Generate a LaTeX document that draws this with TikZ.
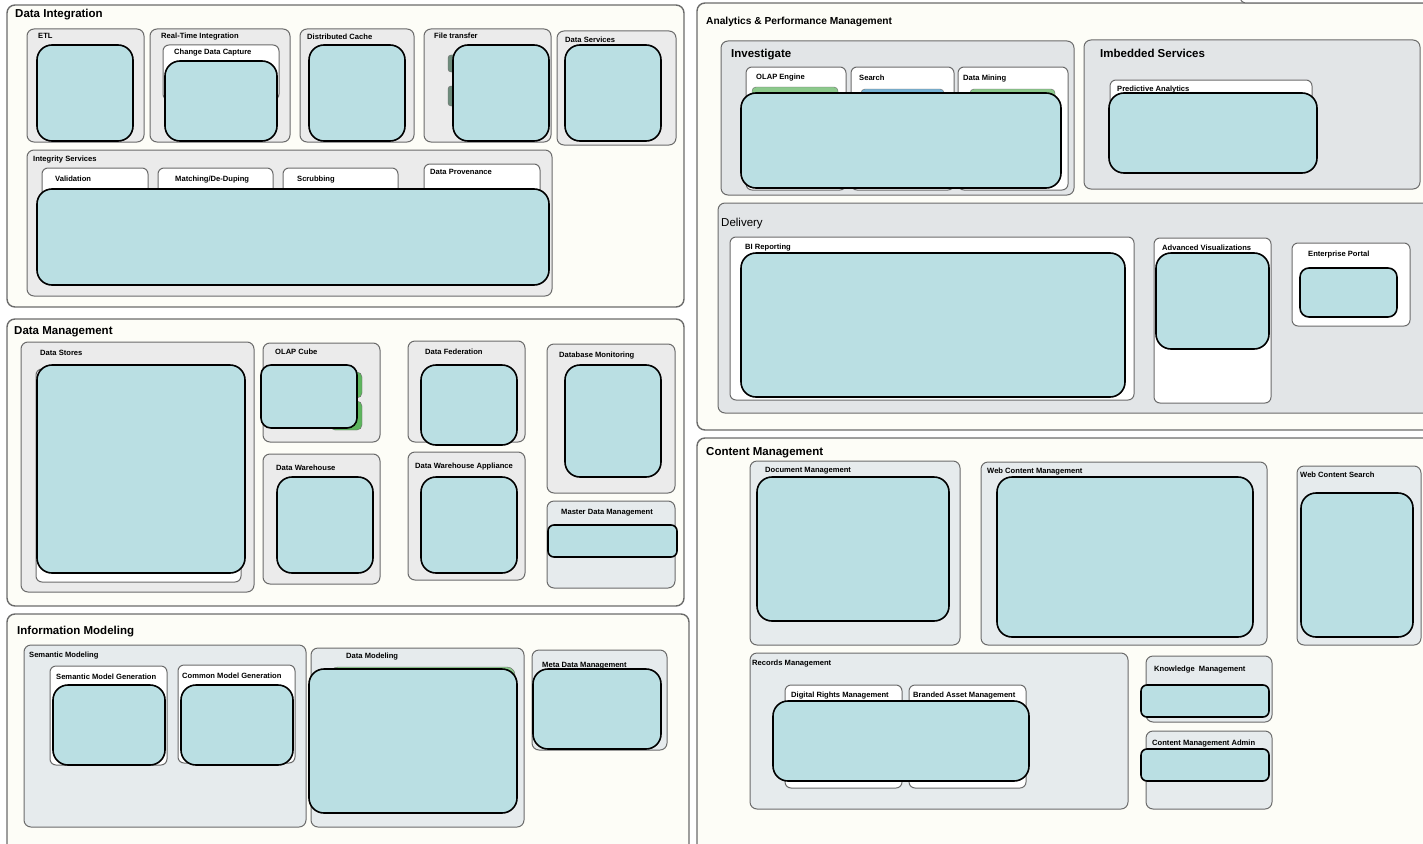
\documentclass[tikz,border=0pt]{standalone}
\usepackage{fontspec}
\setmainfont{Liberation Sans}
\definecolor{Cream}{HTML}{FDFDF7}
\definecolor{Frame}{HTML}{6B6B6B}
\definecolor{Shade}{HTML}{EBEBEB}
\definecolor{Haze}{HTML}{E6EBED}
\definecolor{Slate}{HTML}{E2E5E7}
\definecolor{Veil}{HTML}{BADFE3}
\definecolor{Leaf}{HTML}{8CC98C}
\definecolor{Cube}{HTML}{5DB55D}
\definecolor{Sky}{HTML}{79B4D6}
\definecolor{Moss}{HTML}{6E8C7C}
\tikzset{panel/.style={draw=Frame,fill=Cream,line width=1.4pt,rounded corners=8pt},
  grp/.style={draw=Frame,fill=Shade,line width=1pt,rounded corners=7pt},
  card/.style={draw=Frame,fill=white,line width=1pt,rounded corners=6pt},
  redact/.style={draw=black,fill=Veil,line width=1.6pt,rounded corners=#1},
  redact/.default=15pt,
  ptitle/.style={anchor=base west,inner sep=0pt,font=\fontsize{11.5}{12}\selectfont\bfseries},
  blabel/.style={anchor=base west,inner sep=0pt,font=\fontsize{7.6}{8}\selectfont\bfseries}}

\begin{document}
\begin{tikzpicture}[x=1pt,y=-1pt]
\useasboundingbox (0,0) rectangle (1423,843);
\clip (0,0) rectangle (1423,843);
% panels
\draw[panel] (7,5) rectangle (684,307);
\draw[panel] (7,319) rectangle (684,606);
\draw[panel] (7,614) rectangle (689,860);
\draw[panel] (697,3) rectangle (1445,430);
\draw[panel] (697,438) rectangle (1445,870);
\draw[card,draw=Frame] (1240,-20) rectangle (1445,3);

% data integration
\node[ptitle] (di) at (15,18) {Data Integration};
\draw[grp] (27,29) rectangle (144,142);
\draw[grp] (150,29) rectangle (290,142);
\draw[card] (163,45) rectangle (279,100);
\draw[grp] (300,29) rectangle (414,142);
\draw[grp] (424,29) rectangle (551,142);
\draw[fill=Moss,draw=Frame,rounded corners=3pt] (448,55) rectangle (470,72);
\draw[fill=Moss,draw=Frame,rounded corners=3pt] (448,86) rectangle (470,106);
\draw[grp] (557,31) rectangle (676,145);
\draw[grp] (27,150) rectangle (552,296);
\draw[card] (42,168) rectangle (148,280);
\draw[card] (158,168) rectangle (273,280);
\draw[card] (283,168) rectangle (398,280);
\draw[card] (424,164) rectangle (540,280);
\draw[redact] (37,45) rectangle (133,141);
\draw[redact] (165,61) rectangle (277,141);
\draw[redact] (309,45) rectangle (405,141);
\draw[redact] (453,45) rectangle (549,141);
\draw[redact] (565,45) rectangle (661,141);
\draw[redact] (37,189) rectangle (549,285);
\node[blabel] (etl) at (38,38) {ETL};
\node[blabel] (rti) at (161,39) {Real-Time Integration};
\node[blabel] (cdc) at (174,55) {Change Data Capture};
\node[blabel] (dca) at (307,40) {Distributed Cache};
\node[blabel] (ftr) at (434,39) {File transfer};
\node[blabel] (dse) at (565,43) {Data Services};
\node[blabel] (isv) at (33,161) {Integrity Services};
\node[blabel] (val) at (55,181) {Validation};
\node[blabel] (mdd) at (175,181) {Matching/De-Duping};
\node[blabel] (scr) at (297,181) {Scrubbing};
\node[blabel] (dpv) at (430,174) {Data Provenance};

% data management
\node[ptitle] (dm) at (14,334) {Data Management};
\draw[grp] (21,342) rectangle (254,592);
\draw[card] (36,369) rectangle (241,582);
\draw[grp] (263,343) rectangle (380,442);
\draw[fill=Cube,draw=Frame,rounded corners=5pt] (330,372) rectangle (362,398);
\draw[fill=Cube,draw=Frame,rounded corners=5pt] (330,401) rectangle (362,430);
\draw[grp] (263,454) rectangle (380,584);
\draw[grp] (408,341) rectangle (525,442);
\draw[grp] (408,452) rectangle (525,580);
\draw[grp] (547,344) rectangle (675,493);
\draw[grp,fill=Haze] (547,501) rectangle (675,588);
\draw[redact] (37,365) rectangle (245,573);
\draw[redact=10pt] (261,365) rectangle (357,428);
\draw[redact] (277,477) rectangle (373,573);
\draw[redact] (421,365) rectangle (517,445);
\draw[redact] (421,477) rectangle (517,573);
\draw[redact] (565,365) rectangle (661,477);
\draw[redact=6pt] (548,525) rectangle (677,557);
\node[blabel] (dst) at (40,355) {Data Stores};
\node[blabel] (olc) at (275,354) {OLAP Cube};
\node[blabel] (dwh) at (276,470) {Data Warehouse};
\node[blabel] (dfe) at (425,354) {Data Federation};
\node[blabel] (dwa) at (415,468) {Data Warehouse Appliance};
\node[blabel] (dbm) at (559,357) {Database Monitoring};
\node[blabel] (mdm) at (561,514) {Master Data Management};

% information modeling
\node[ptitle] (im) at (17,634) {Information Modeling};
\draw[grp,fill=Haze] (24,645) rectangle (306,827);
\draw[card] (50,666) rectangle (167,765);
\draw[card] (178,665) rectangle (295,763);
\draw[grp,fill=Haze] (311,648) rectangle (524,827);
\draw[fill=Leaf,draw=Frame,rounded corners=8pt] (330,667) rectangle (515,800);
\draw[grp,fill=Haze] (532,650) rectangle (667,750);
\draw[redact] (53,685) rectangle (165,765);
\draw[redact] (181,685) rectangle (293,765);
\draw[redact] (309,669) rectangle (517,813);
\draw[redact] (533,669) rectangle (661,749);
\node[blabel] (smo) at (29,657) {Semantic Modeling};
\node[blabel] (smg) at (56,679) {Semantic Model Generation};
\node[blabel] (cmg) at (182,678) {Common Model Generation};
\node[blabel] (dmo) at (346,658) {Data Modeling};
\node[blabel] (mdt) at (542,667) {Meta Data Management};

% analytics and performance management
\node[ptitle,font=\fontsize{10.2}{11}\selectfont\bfseries] (apm) at (706,25) {Analytics \& Performance Management};
\draw[grp,fill=Slate] (721,41) rectangle (1074,195);
\draw[card] (746,67) rectangle (846,190);
\draw[card] (851,67) rectangle (954,190);
\draw[card] (958,67) rectangle (1068,190);
\draw[fill=Leaf,draw=Frame,rounded corners=4pt] (752,87) rectangle (838,150);
\draw[fill=Sky,draw=Frame,rounded corners=4pt] (861,89) rectangle (944,150);
\draw[fill=Leaf,draw=Frame,rounded corners=4pt] (970,89) rectangle (1055,150);
\draw[grp,fill=Slate] (1084,40) rectangle (1420,189);
\draw[card] (1110,80) rectangle (1312,160);
\draw[grp,fill=Slate] (718,203) rectangle (1435,413);
\draw[card] (730,237) rectangle (1134,400);
\draw[card] (1154,238) rectangle (1271,403);
\draw[card] (1292,243) rectangle (1410,326);
\draw[redact] (741,93) rectangle (1061,188);
\draw[redact] (1109,93) rectangle (1317,173);
\draw[redact] (741,253) rectangle (1125,397);
\draw[redact] (1156,253) rectangle (1269,349);
\draw[redact=9pt] (1300,268) rectangle (1397,317);
\node[ptitle] (inv) at (731,57) {Investigate};
\node[blabel] (ole) at (756,79) {OLAP Engine};
\node[blabel] (sea) at (859,80) {Search};
\node[blabel] (dmi) at (963,80) {Data Mining};
\node[ptitle] (ims) at (1100,58) {Imbedded Services};
\node[blabel] (pra) at (1117,92) {Predictive Analytics};
\node[ptitle,font=\fontsize{11.5}{12}\selectfont] (dlv) at (721,226) {Delivery};
\node[blabel] (bir) at (745,249) {BI Reporting};
\node[blabel] (adv) at (1162,250) {Advanced Visualizations};
\node[blabel] (ent) at (1308,256) {Enterprise Portal};

% content management
\node[ptitle] (cm) at (706,455) {Content Management};
\draw[grp,fill=Haze] (750,461) rectangle (960,645);
\draw[grp,fill=Haze] (981,462) rectangle (1267,645);
\draw[grp,fill=Haze] (1297,466) rectangle (1421,645);
\draw[grp,fill=Haze] (750,653) rectangle (1128,809);
\draw[card] (785,685) rectangle (902,788);
\draw[card] (909,685) rectangle (1026,788);
\draw[grp,fill=Haze] (1146,656) rectangle (1272,722);
\draw[grp,fill=Haze] (1146,731) rectangle (1272,809);
\draw[redact] (757,477) rectangle (949,621);
\draw[redact] (997,477) rectangle (1253,637);
\draw[redact] (1301,493) rectangle (1413,637);
\draw[redact] (773,701) rectangle (1029,781);
\draw[redact=6pt] (1141,685) rectangle (1269,717);
\draw[redact=6pt] (1141,749) rectangle (1269,781);
\node[blabel] (dcm) at (765,472) {Document Management};
\node[blabel] (wcm) at (987,473) {Web Content Management};
\node[blabel] (wcs) at (1300,477) {Web Content Search};
\node[blabel] (rem) at (752,665) {Records Management};
\node[blabel] (drm) at (791,697) {Digital Rights Management};
\node[blabel] (bam) at (913,697) {Branded Asset Management};
\node[blabel] (knm) at (1154,671) {Knowledge\ \ Management};
\node[blabel] (cma) at (1152,745) {Content Management Admin};
\end{tikzpicture}
\end{document}
